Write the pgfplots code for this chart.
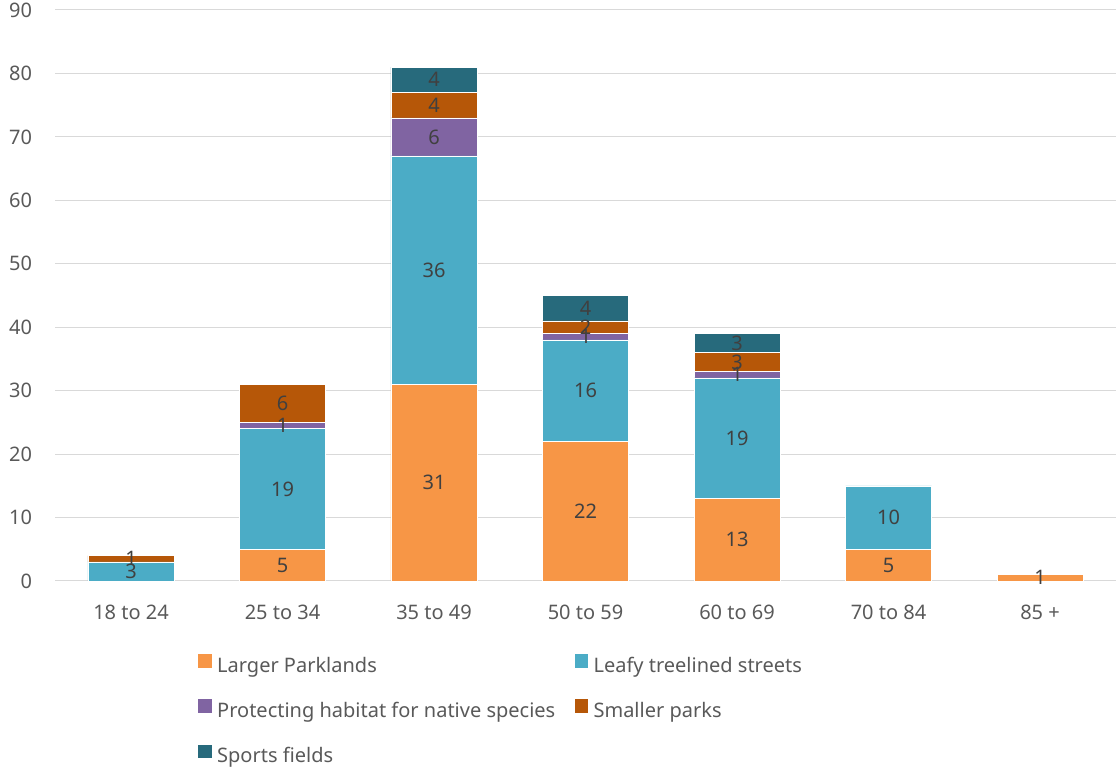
\documentclass[border=0pt]{standalone}
\usepackage{pgfplots}
\usepackage{pgfplotstable}
\pgfplotsset{compat=1.18}
\usepackage{fontspec}
\setmainfont{Noto Sans}

\definecolor{cLarger}{HTML}{F79646}
\definecolor{cLeafy}{HTML}{4BACC6}
\definecolor{cHabitat}{HTML}{8064A2}
\definecolor{cSmaller}{HTML}{B65708}
\definecolor{cSports}{HTML}{276A7C}
\definecolor{tickgray}{HTML}{595959}
\definecolor{labelgray}{HTML}{404040}
\definecolor{gridgray}{HTML}{D9D9D9}

% preferences by age group
\pgfplotstableread{
x larger leafy habitat smaller sports
0 0  3  0 1 0
1 5  19 1 6 0
2 31 36 6 4 4
3 22 16 1 2 4
4 13 19 1 3 3
5 5  10 0 0 0
6 1  0  0 0 0
}\votes

\begin{document}
\fontsize{15pt}{18pt}\selectfont
\begin{tikzpicture}
\useasboundingbox (0,0) rectangle (837.75pt,575.25pt);
\begin{axis}[
  at={(41.44pt,139.5pt)}, anchor=south west,
  scale only axis, width=795.4pt, height=428.25pt,
  ybar stacked, bar width=0.568,
  xmin=-0.5, xmax=6.5, ymin=0, ymax=90,
  xtick={0,...,6},
  xticklabels={18 to 24, 25 to 34, 35 to 49, 50 to 59, 60 to 69, 70 to 84, 85 +},
  ytick={0,10,...,90},
  ymajorgrids,
  major grid style={gridgray, line width=0.75pt},
  axis line style={draw=none},
  major tick length=0pt,
  /pgf/number format/assume math mode=true,
  tick label style={color=tickgray},
  yticklabel style={anchor=east, inner sep=0pt, xshift=-17.2pt},
  xticklabel style={anchor=base, inner sep=0pt, yshift=-29.25pt},
  % segment values centred inside their segments, zero values left unlabelled
  visualization depends on={rawy \as \rawy},
  nodes near coords={\ifdim\rawy pt>0pt\relax\pgfmathprintnumber[fixed,precision=0]{\rawy}\fi},
  nodes near coords align=center,
  every node near coord/.append style={color=labelgray},
  legend columns=2,
  legend cell align=left,
  legend image code/.code={\fill[#1, draw=none] (0pt,0pt) rectangle (10pt,10pt);},
  legend style={at={(0.1346,-0.128)}, anchor=north west, draw=none, fill=none,
    inner sep=0pt, text=tickgray, row sep=16.6pt,
    nodes={inner sep=0pt, text height=11pt, text depth=3.5pt},
    /tikz/every odd column/.append style={column sep=4.2pt},
    /tikz/every even column/.append style={column sep=14.5pt}},
]
\addplot[fill=cLarger, draw=white, line width=0.4pt] table[x=x, y=larger] {\votes};
\addlegendentry{Larger Parklands}
\addplot[fill=cLeafy, draw=white, line width=0.4pt] table[x=x, y=leafy] {\votes};
\addlegendentry{Leafy treelined streets}
\addplot[fill=cHabitat, draw=white, line width=0.4pt] table[x=x, y=habitat] {\votes};
\addlegendentry{Protecting habitat for native species}
\addplot[fill=cSmaller, draw=white, line width=0.4pt] table[x=x, y=smaller] {\votes};
\addlegendentry{Smaller parks}
\addplot[fill=cSports, draw=white, line width=0.4pt] table[x=x, y=sports] {\votes};
\addlegendentry{Sports fields}
\end{axis}
\end{tikzpicture}
\end{document}
